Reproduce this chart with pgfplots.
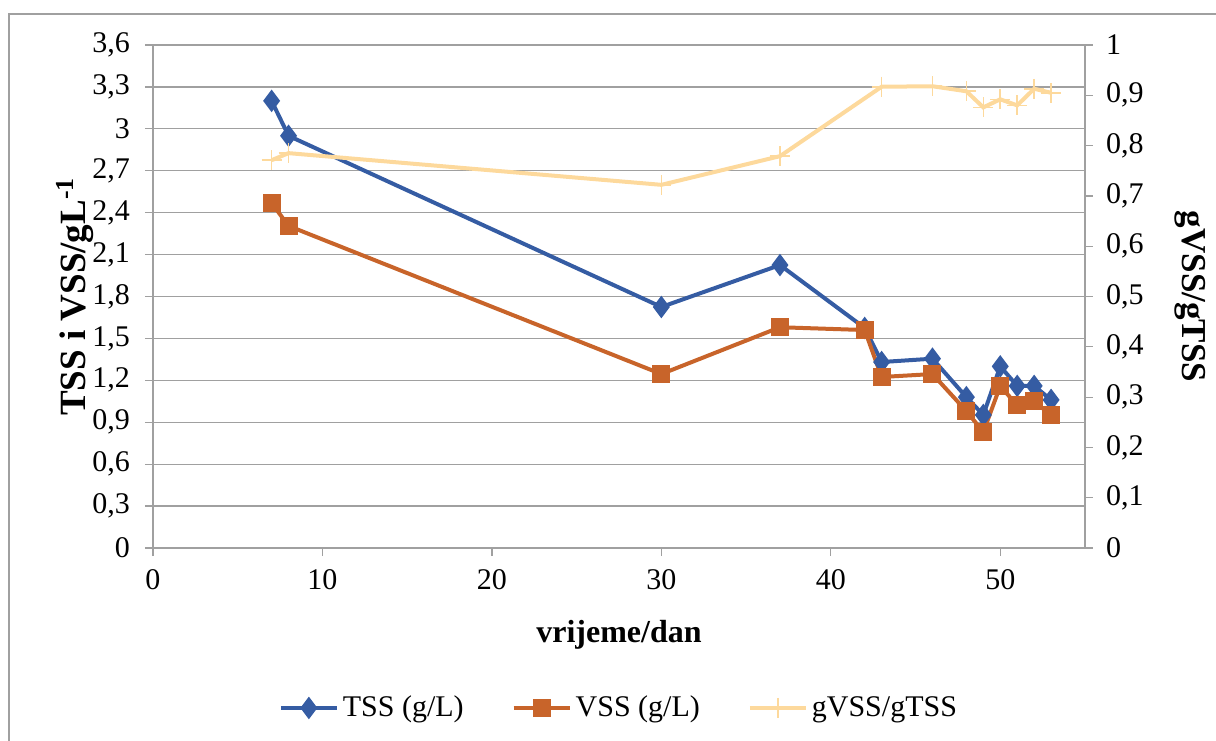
\documentclass[border=0pt]{standalone}
\usepackage{fontspec}
\setmainfont{Liberation Serif}
\usepackage{pgfplots}
\pgfplotsset{compat=1.18}
\definecolor{tssblue}{HTML}{355CA3}
\definecolor{vssorange}{HTML}{C8642A}
\definecolor{ratiocol}{HTML}{FDD99C}
\definecolor{axgray}{HTML}{A0A0A0}
\begin{document}
\begin{tikzpicture}
\useasboundingbox (-76.5pt,-96pt) rectangle (531.5pt,274pt);
\draw[axgray, line width=0.6pt] (-72pt,-120pt) -- (-72pt,267pt) -- (560pt,267pt);
\pgfplotsset{
  common/.style={
    scale only axis, width=466pt, height=251.5pt,
    xmin=0, xmax=55,
    /pgf/number format/use comma,
    /pgf/number format/assume math mode=true,
    tick label style={font=\fontsize{15}{17}\selectfont, black},
    axis line style={axgray, line width=0.6pt},
    tick style={axgray, line width=0.6pt},
    tick align=outside, major tick length=4pt,
  }
}
\begin{axis}[common,
  axis y line*=left, axis x line*=bottom,
  ymin=0, ymax=3.6, ytick={0,0.3,...,3.61},
  yticklabels={0,{0,3},{0,6},{0,9},{1,2},{1,5},{1,8},{2,1},{2,4},{2,7},3,{3,3},{3,6}},
  yticklabel style={xshift=-4pt},
  xticklabel style={yshift=-3pt},
  xtick={0,10,...,50},
  ymajorgrids, grid style={axgray, line width=0.6pt},
  xlabel={vrijeme/dan},
  xlabel style={font=\bfseries\fontsize{16}{18}\selectfont, at={(axis description cs:0.5,-0.173)}, anchor=center},
  ylabel={TSS i VSS/gL\textsuperscript{-1}},
  ylabel style={font=\bfseries\fontsize{18.5}{20}\selectfont, at={(axis description cs:-0.0837,0.5)}, anchor=center},
  legend style={draw=none, fill=none, at={(0.501,-0.318)}, anchor=center,
    legend columns=3, font=\fontsize{15}{17}\selectfont,
    /tikz/every even column/.append style={column sep=22pt}},
  legend image code/.code={
    \draw[#1, mark=none] (0pt,0pt) -- (28pt,0pt);
    \draw[#1, only marks] plot coordinates {(14pt,0pt)};
  },
]
\addplot[tssblue, line width=2pt, mark=diamond*, mark size=4pt, mark options={solid, fill=tssblue}] coordinates {
(7,3.2) (8,2.95) (30,1.725) (37,2.025) (42,1.575) (43,1.331) (46,1.355) (48,1.08) (49,0.952) (50,1.30) (51,1.16) (52,1.16) (53,1.06)
};
\addlegendentry{TSS (g/L)}
\addplot[vssorange, line width=2pt, mark=square*, mark size=3.5pt, mark options={solid, fill=vssorange}] coordinates {
(7,2.469) (8,2.305) (30,1.245) (37,1.58) (42,1.56) (43,1.224) (46,1.245) (48,0.98) (49,0.83) (50,1.16) (51,1.02) (52,1.05) (53,0.95)
};
\addlegendentry{VSS (g/L)}
\addlegendimage{ratiocol, line width=2pt, mark=+, mark size=5pt, mark options={line width=0.8pt}}
\addlegendentry{gVSS/gTSS}
\end{axis}
\begin{axis}[common,
  axis y line*=right, axis x line=none,
  ymin=0, ymax=1, ytick={0,0.1,...,1.01},
  yticklabels={0,{0,1},{0,2},{0,3},{0,4},{0,5},{0,6},{0,7},{0,8},{0,9},1},
  yticklabel style={xshift=3pt},
  ylabel={gVSS/gTSS},
  ylabel style={font=\bfseries\fontsize{17.5}{19}\selectfont, at={(axis description cs:1.1127,0.5)}, anchor=center, rotate=180},
]
\addplot[ratiocol, line width=2pt, mark=+, mark size=5pt, mark options={line width=0.8pt}] coordinates {
(7,0.771) (8,0.785) (30,0.722) (37,0.779) (43,0.917) (46,0.918) (48,0.908) (49,0.876) (50,0.892) (51,0.880) (52,0.913) (53,0.905)
};
\end{axis}
\end{tikzpicture}
\end{document}
